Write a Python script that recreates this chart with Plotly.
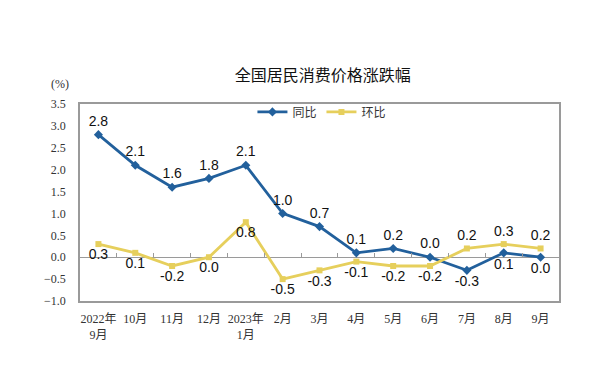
import plotly.graph_objects as go

categories = ["2022年<br>9月", "10月", "11月", "12月", "2023年<br>1月", "2月", "3月",
              "4月", "5月", "6月", "7月", "8月", "9月"]
yoy = [2.8, 2.1, 1.6, 1.8, 2.1, 1.0, 0.7, 0.1, 0.2, 0.0, -0.3, 0.1, 0.0]
mom = [0.3, 0.1, -0.2, 0.0, 0.8, -0.5, -0.3, -0.1, -0.2, -0.2, 0.2, 0.3, 0.2]
yoy_pos = ["top center"] * 10 + ["bottom center"] * 3
mom_pos = ["bottom center"] * 10 + ["top center"] * 3

blue = "#22609C"
yellow = "#E6CF5C"
label_font = dict(family="Liberation Sans, Arial", size=14, color="#111")

fig = go.Figure()
fig.add_trace(go.Scatter(
    x=categories, y=yoy, name="同比", mode="lines+markers+text",
    line=dict(color=blue, width=2.8),
    marker=dict(symbol="diamond", size=7, color=blue),
    text=[f"{v:.1f}" for v in yoy], textposition=yoy_pos,
    textfont=label_font, cliponaxis=False,
))
fig.add_trace(go.Scatter(
    x=categories, y=mom, name="环比", mode="lines+markers+text",
    line=dict(color=yellow, width=2.8),
    marker=dict(symbol="square", size=6, color=yellow),
    text=[f"{v:.1f}" for v in mom], textposition=mom_pos,
    textfont=label_font, cliponaxis=False,
))
# invisible trace to carry the zero-line tick axis
fig.add_trace(go.Scatter(x=categories, y=[0] * len(categories), xaxis="x2",
                         mode="lines", line=dict(width=0), showlegend=False,
                         hoverinfo="skip"))

fig.update_layout(
    width=600, height=371,
    margin=dict(l=80, r=41, t=104, b=70),
    paper_bgcolor="white", plot_bgcolor="white",
    title=dict(text="全国居民消费价格涨跌幅", x=0.538, xref="container",
               y=1 - 75 / 371, yref="container", xanchor="center", yanchor="middle",
               font=dict(family="Noto Sans CJK SC", size=16, color="#111")),
    legend=dict(orientation="h", x=0.36, y=0.96, xanchor="left", yanchor="middle",
                font=dict(family="Noto Sans CJK SC", size=12, color="#333"),
                bgcolor="rgba(0,0,0,0)", itemwidth=30, tracegroupgap=0),
    xaxis=dict(type="category", range=[-0.5, 12.5], showgrid=False,
               showline=True, linecolor="#9a9a9a", linewidth=1.5, mirror=True,
               ticks="", tickfont=dict(family="Liberation Serif, Noto Sans CJK SC", size=12, color="#333"),
               ticklabelstandoff=6),
    xaxis2=dict(type="category", range=[-0.5, 12.5], overlaying="x", anchor="free",
                position=1 / 4.5, side="bottom", showgrid=False, showline=False,
                ticks="inside", tickson="boundaries", ticklen=4, tickcolor="#9a9a9a",
                showticklabels=False),
    yaxis=dict(range=[-1.0, 3.5], dtick=0.5, tickformat=".1f", showgrid=False,
               showline=True, linecolor="#9a9a9a", linewidth=1.5, mirror=True,
               zeroline=True, zerolinecolor="#9a9a9a", zerolinewidth=1,
               tickfont=dict(family="Liberation Serif", size=12, color="#333"),
               ticklabelstandoff=10),
    showlegend=True,
    annotations=[dict(text="(%)", xref="paper", yref="paper", x=-0.042, y=1.10,
                      showarrow=False, xanchor="center", yanchor="middle",
                      font=dict(family="Liberation Serif", size=12, color="#333"))],
)

fig.write_html("out.html", config={"displayModeBar": False},
               post_script="document.body.style.margin='0';")
